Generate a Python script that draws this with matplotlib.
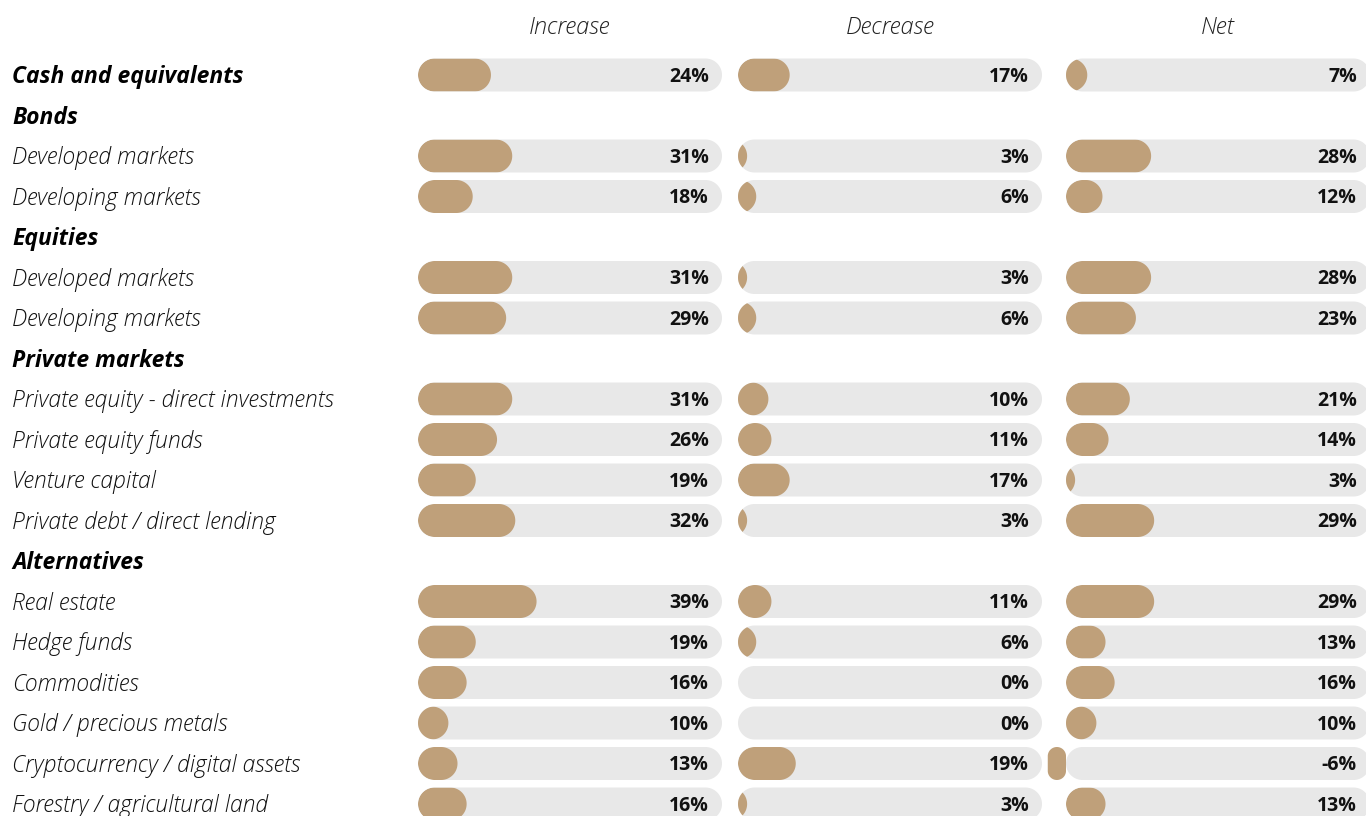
import numpy as np
import matplotlib.pyplot as plt
from matplotlib.patches import Polygon
from matplotlib.transforms import blended_transform_factory

# rows: (label, is_group_header)
labels = ["Cash and equivalents", "Bonds", "Developed markets", "Developing markets",
          "Equities", "Developed markets", "Developing markets", "Private markets",
          "Private equity - direct investments", "Private equity funds", "Venture capital",
          "Private debt / direct lending", "Alternatives", "Real estate", "Hedge funds",
          "Commodities", "Gold / precious metals", "Cryptocurrency / digital assets",
          "Forestry / agricultural land"]
is_header = [True, True, False, False, True, False, False, True, False, False, False,
             False, True, False, False, False, False, False, False]

columns = ["Increase", "Decrease", "Net"]
# values for rows that have bars (None for group headers)
increase = [24, None, 31, 18, None, 31, 29, None, 31, 26, 19, 32, None, 39, 19, 16, 10, 13, 16]
decrease = [17, None, 3, 6, None, 3, 6, None, 10, 11, 17, 3, None, 11, 6, 0, 0, 19, 3]
net = [7, None, 28, 12, None, 28, 23, None, 21, 14, 3, 29, None, 29, 13, 16, 10, -6, 13]

BAR = "#BFA07A"
TRACK = "#E8E8E8"

W, H = 13.66, 8.16
fig = plt.figure(figsize=(W, H), dpi=100)
fig.patch.set_facecolor("white")

FONT = ["Open Sans", "DejaVu Sans"]

n = len(labels)
row_px = 40.5
top_px = 75 - row_px / 2
ax_h_px = row_px * n
col_left = [418, 738, 1066]
col_w = 304

ax_bottom = (816 - top_px - ax_h_px) / 816
axes = []
for left in col_left:
    ax = fig.add_axes([left / 1366, ax_bottom, col_w / 1366, ax_h_px / 816])
    ax.set_xlim(0, 100)
    ax.set_ylim(n - 0.5, -0.5)
    ax.axis("off")
    axes.append(ax)

px_x = col_w / 100.0   # pixels per x unit
px_y = row_px          # pixels per row
bar_h = 33 / px_y
r_px = 16.5


def rounded(x0, x1, yc, h, rx_px, ry_px):
    # polygon of a rounded rectangle in data units
    rx = rx_px / px_x
    ry = ry_px / px_y
    t = np.linspace(0, np.pi / 2, 20)
    ytop, ybot = yc - h / 2, yc + h / 2
    pts = []
    pts += list(zip(x1 - rx + rx * np.sin(t), ytop + ry - ry * np.cos(t)))
    pts += list(zip(x1 - rx + rx * np.cos(t), ybot - ry + ry * np.sin(t)))
    pts += list(zip(x0 + rx - rx * np.sin(t), ybot - ry + ry * np.cos(t)))
    pts += list(zip(x0 + rx - rx * np.cos(t), ytop + ry - ry * np.sin(t)))
    return np.array(pts)


r_units = r_px / px_x
for ax, title, vals in zip(axes, columns, [increase, decrease, net]):
    ax.text(50, -1.15, title, ha="center", va="center", fontsize=17, style="italic",
            fontweight="light", color="#222222", family=FONT, clip_on=False)
    for i, v in enumerate(vals):
        if v is None:
            continue
        track = Polygon(rounded(0, 100, i, bar_h, r_px, r_px), closed=True,
                        facecolor=TRACK, edgecolor="none", clip_on=False)
        ax.add_patch(track)
        if v > 0:
            bar = Polygon(rounded(min(0, v - 2 * r_units), v, i, bar_h, r_px, r_px),
                          closed=True, facecolor=BAR, edgecolor="none")
            ax.add_patch(bar)
            bar.set_clip_path(track)
        elif v < 0:
            w_px = -v * px_x
            rr = min(r_px, w_px / 2)
            bar = Polygon(rounded(v, 0, i, bar_h, rr, rr), closed=True,
                          facecolor=BAR, edgecolor="none", clip_on=False)
            ax.add_patch(bar)
        ax.text(95.7, i + 0.04, f"{v}%", ha="right", va="center", fontsize=14,
                fontweight="bold", color="#111111", family=FONT)

trans = blended_transform_factory(fig.transFigure, axes[0].transData)
for i, (lab, hd) in enumerate(zip(labels, is_header)):
    if hd:
        axes[0].text(12 / 1366, i + 0.05, lab, transform=trans, ha="left", va="center",
                     fontsize=16.5, style="italic", fontweight="bold", color="#000000",
                     family=FONT, clip_on=False)
    else:
        axes[0].text(12 / 1366, i + 0.05, lab, transform=trans, ha="left", va="center",
                     fontsize=16.5, style="italic", fontweight="light", color="#111111",
                     family=FONT, clip_on=False)

fig.savefig("out.png", dpi=100, facecolor="white")
